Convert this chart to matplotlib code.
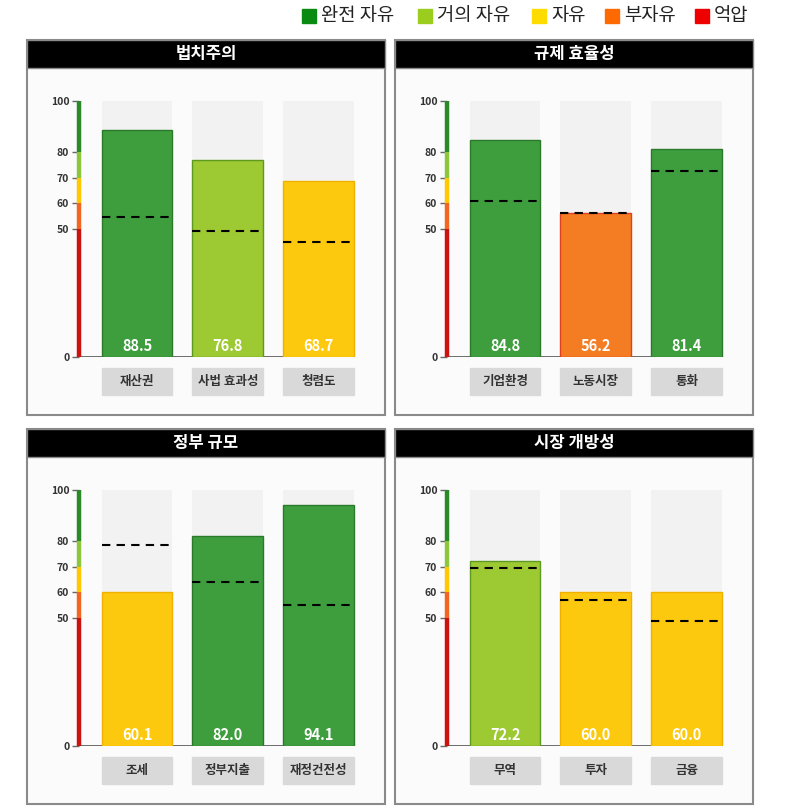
import matplotlib
matplotlib.use("Agg")
import matplotlib.pyplot as plt
from matplotlib.patches import Rectangle

plt.rcParams['font.family'] = ['Noto Sans CJK KR', 'DejaVu Sans']

panel_titles = ['법치주의', '규제 효율성', '정부 규모', '시장 개방성']
categories = [['재산권', '사법 효과성', '청렴도'],
              ['기업환경', '노동시장', '통화'],
              ['조세', '정부지출', '재정건전성'],
              ['무역', '투자', '금융']]
scores = [[88.5, 76.8, 68.7],
          [84.8, 56.2, 81.4],
          [60.1, 82.0, 94.1],
          [72.2, 60.0, 60.0]]
world_avg = [[54.7, 49.2, 44.9],
             [60.8, 56.2, 72.5],
             [78.6, 64.2, 54.9],
             [69.6, 56.9, 48.8]]

legend_labels = ['완전 자유', '거의 자유', '자유', '부자유', '억압']
legend_colors = ['#0b8a12', '#9acd1e', '#ffdc00', '#ff6a00', '#ee0000']

# score bands (lower bound, bar colour, edge colour, axis colour)
bands = [(80, '#3e9e3e', '#2a7a2a', '#2a8a2a'),
         (70, '#9dc932', '#5f9a20', '#8cc63f'),
         (60, '#fdc90f', '#f0b000', '#ffc800'),
         (50, '#f47c22', '#e04020', '#f26522'),
         (0, '#d0141a', '#a00000', '#cc1111')]


def band(v):
    for lo, c, e, a in bands:
        if v >= lo:
            return c, e
    return bands[-1][1], bands[-1][2]


W, H = 807, 811
fig = plt.figure(figsize=(W / 100, H / 100), dpi=100)


def fx(x):
    return x / W


def fy(y):
    return 1 - y / H


# legend
leg_sq = [302, 418, 532, 605, 695]
for xs, lab, col in zip(leg_sq, legend_labels, legend_colors):
    fig.patches.append(Rectangle((fx(xs), fy(23)), 14 / W, 14 / H,
                                 transform=fig.transFigure, color=col))
    fig.text(fx(xs + 19), fy(16), lab, fontsize=13.5, va='center',
             ha='left', color='#222')

offsets = [(0, 0), (368, 0), (0, 389), (368, 389)]
for i, (dx, dy) in enumerate(offsets):
    # panel frame and title bar
    fig.patches.append(Rectangle((fx(27 + dx), fy(415 + dy)), 358 / W, 375 / H,
                                 transform=fig.transFigure, facecolor='#fbfbfb',
                                 edgecolor='#8a8a8a', lw=1.5))
    fig.patches.append(Rectangle((fx(27 + dx), fy(68 + dy)), 358 / W, 28 / H,
                                 transform=fig.transFigure, facecolor='black',
                                 edgecolor='#8a8a8a', lw=1))
    fig.text(fx(206 + dx), fy(54 + dy), panel_titles[i], color='white',
             fontsize=12, ha='center', va='center', fontweight='bold')

    ax = fig.add_axes([fx(79 + dx), fy(357 + dy), 285 / W, 256 / H])
    ax.set_zorder(3)
    ax.set_facecolor('none')
    xs = [0, 1, 2]
    w = 0.78
    ax.bar(xs, [100] * 3, width=w, color='#f2f2f2', zorder=1)
    for x, v, a in zip(xs, scores[i], world_avg[i]):
        c, e = band(v)
        ax.bar(x, v, width=w, color=c, edgecolor=e, lw=1, zorder=2)
        ax.hlines(a, x - w / 2, x + w / 2, colors='black', linestyles=(0, (4, 3)),
                  lw=1.5, zorder=3)
        ax.text(x, 4.2, f'{v:.1f}', color='white', fontsize=10.5,
                fontweight='bold', ha='center', va='center', zorder=4)
        ax.add_patch(Rectangle((x - w / 2, -14.8), w, 10.5, color='#d9d9d9',
                               clip_on=False))
        ax.text(x, -9.5, categories[i][x], fontsize=9, fontweight='bold',
                color='#333', ha='center', va='center')

    # coloured value axis
    segs = [(0, 50, bands[4][3]), (50, 60, bands[3][3]), (60, 70, bands[2][3]),
            (70, 80, bands[1][3]), (80, 100, bands[0][3])]
    for lo, hi, col in segs:
        ax.vlines(-0.64, lo, hi, colors=col, lw=3.2, clip_on=False, zorder=5)
    ax.hlines(0, -0.64, 2.39, colors='#555', lw=1.2, zorder=1.5)

    ax.set_xlim(-0.64, 2.5)
    ax.set_ylim(0, 100)
    ax.set_yticks([0, 50, 60, 70, 80, 100])
    ax.tick_params(axis='y', length=5, width=1, color='#666', labelsize=7.5,
                   labelcolor='#333', pad=2)
    for t in ax.get_yticklabels():
        t.set_fontweight('bold')
    ax.set_xticks([])
    for s in ax.spines.values():
        s.set_visible(False)

fig.savefig('out.png', dpi=100)
